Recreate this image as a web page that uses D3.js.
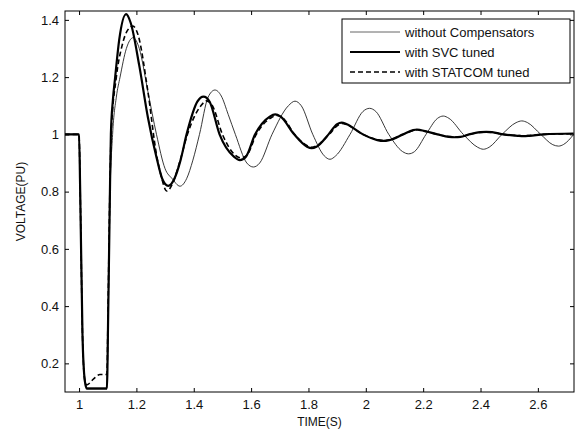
<!DOCTYPE html>
<html><head><meta charset="utf-8">
<script src="https://cdn.jsdelivr.net/npm/d3@7"></script>
<style>
body{margin:0;background:#fff;}
text{font-family:"Liberation Sans",Arial,sans-serif;}
</style></head>
<body><svg id="c" width="575" height="432"></svg>
<script>
// ---- data ----
const xTicks = [1, 1.2, 1.4, 1.6, 1.8, 2, 2.2, 2.4, 2.6];
const yTicks = [0.2, 0.4, 0.6, 0.8, 1, 1.2, 1.4];
const seriesNames = ["without Compensators", "with SVC tuned", "with STATCOM tuned"];

const withoutT = [0.95,1.0,1.004,1.012,1.02,1.028,1.097,1.102,1.107,1.117,1.13,1.143,1.165,1.189,1.21,1.24,1.27,1.30,1.325,1.352,1.375,1.397,1.42,1.45,1.474,1.496,1.52,1.545,1.585,1.608,1.63,1.673,1.73,1.753,1.775,1.815,1.855,1.875,1.895,1.945,1.99,2.013,2.035,2.08,2.128,2.149,2.17,2.21,2.25,2.27,2.29,2.34,2.39,2.41,2.43,2.475,2.524,2.544,2.564,2.61,2.652,2.672,2.69,2.725];
const withoutV = [1.0,1.0,0.8,0.3,0.15,0.114,0.114,0.4,0.75,1.0,1.13,1.2,1.3,1.338,1.3,1.15,1.0,0.88,0.845,0.819,0.845,0.91,1.0,1.13,1.155,1.134,1.07,1.0,0.9,0.886,0.9,1.0,1.1,1.116,1.1,1.0,0.925,0.913,0.925,1.0,1.08,1.091,1.08,1.0,0.94,0.932,0.94,1.0,1.056,1.064,1.056,1.0,0.955,0.948,0.955,1.0,1.041,1.047,1.041,1.0,0.964,0.959,0.965,1.0];

const svcT = [0.95,1.0,1.004,1.012,1.02,1.027,1.097,1.102,1.107,1.111,1.118,1.126,1.14,1.164,1.18,1.21,1.24,1.27,1.29,1.311,1.332,1.354,1.375,1.413,1.434,1.455,1.49,1.54,1.561,1.582,1.614,1.665,1.684,1.703,1.75,1.795,1.811,1.828,1.87,1.9,1.916,1.932,1.99,2.04,2.061,2.082,2.13,2.165,2.178,2.191,2.25,2.29,2.311,2.33,2.36,2.40,2.42,2.44,2.48,2.53,2.55,2.57,2.62,2.725];
const svcV = [1.0,1.0,0.8,0.3,0.14,0.112,0.112,0.4,0.75,1.0,1.12,1.2,1.33,1.42,1.39,1.24,1.06,0.92,0.845,0.82,0.844,0.91,1.0,1.115,1.132,1.115,1.0,0.922,0.91,0.922,1.0,1.062,1.07,1.062,1.0,0.957,0.952,0.957,1.0,1.036,1.041,1.036,1.0,0.98,0.977,0.98,1.0,1.015,1.017,1.015,1.0,0.991,0.99,0.991,1.0,1.008,1.009,1.008,1.0,0.995,0.994,0.995,1.0,1.003];

const statT = [0.95,1.0,1.004,1.012,1.02,1.027,1.05,1.073,1.097,1.102,1.107,1.112,1.13,1.15,1.17,1.188,1.205,1.24,1.27,1.285,1.306,1.327,1.35,1.378,1.425,1.445,1.465,1.50,1.544,1.565,1.586,1.618,1.67,1.69,1.71,1.752,1.796,1.812,1.828,1.872,1.904,1.92,1.936,1.99,2.042,2.063,2.084,2.13,2.167,2.18,2.193,2.25,2.293,2.313,2.333,2.36,2.40,2.42,2.44,2.48,2.53,2.55,2.57,2.62,2.725];
const statV = [1.0,1.0,0.8,0.3,0.14,0.125,0.145,0.161,0.161,0.45,0.78,1.0,1.2,1.31,1.365,1.378,1.35,1.15,0.93,0.86,0.802,0.83,0.9,1.0,1.1,1.117,1.1,1.0,0.928,0.918,0.928,1.0,1.058,1.066,1.058,1.0,0.96,0.955,0.96,1.0,1.033,1.038,1.033,1.0,0.981,0.978,0.981,1.0,1.014,1.016,1.014,1.0,0.992,0.991,0.992,1.0,1.007,1.008,1.007,1.0,0.996,0.995,0.996,1.0,1.002];

// ---- layout ----
const L = 65, R = 574, T = 11, B = 392;
const svg = d3.select("#c");
const x = d3.scaleLinear().domain([0.951, 2.726]).range([L, R]);
const y = d3.scaleLinear().domain([0.1, 1.431]).range([B, T]);

// axes
const fmt = d => String(d);
const gx = svg.append("g").attr("transform", `translate(0,${B})`)
  .call(d3.axisBottom(x).tickValues(xTicks).tickFormat(fmt).tickSizeInner(-4).tickSizeOuter(0).tickPadding(8));
const gxt = svg.append("g").attr("transform", `translate(0,${T})`)
  .call(d3.axisTop(x).tickValues(xTicks).tickFormat("").tickSizeInner(-4).tickSizeOuter(0));
const gy = svg.append("g").attr("transform", `translate(${L},0)`)
  .call(d3.axisLeft(y).tickValues(yTicks).tickFormat(fmt).tickSizeInner(-4).tickSizeOuter(0).tickPadding(6));
const gyr = svg.append("g").attr("transform", `translate(${R},0)`)
  .call(d3.axisRight(y).tickValues(yTicks).tickFormat("").tickSizeInner(-4).tickSizeOuter(0));
[gx, gxt, gy, gyr].forEach(g => {
  g.select(".domain").remove();
  g.selectAll(".tick line").attr("stroke", "#000").attr("stroke-width", 1);
  g.selectAll("text").attr("fill", "#111").style("font-size", "13px").style("font-family", "Liberation Sans, Arial, sans-serif");
});

// clip
svg.append("clipPath").attr("id", "clip").append("rect")
  .attr("x", L).attr("y", T).attr("width", R - L).attr("height", B - T);

const line = d3.line().x(d => x(d[0])).y(d => y(d[1])).curve(d3.curveMonotoneX);
const zip = (a, b) => a.map((t, i) => [t, b[i]]);
const plot = svg.append("g").attr("clip-path", "url(#clip)");
plot.append("path").datum(zip(withoutT, withoutV)).attr("d", line)
  .attr("fill", "none").attr("stroke", "#222").attr("stroke-width", 0.9);
plot.append("path").datum(zip(statT, statV)).attr("d", line)
  .attr("fill", "none").attr("stroke", "#000").attr("stroke-width", 1.6).attr("stroke-dasharray", "5,3");
plot.append("path").datum(zip(svcT, svcV)).attr("d", line)
  .attr("fill", "none").attr("stroke", "#000").attr("stroke-width", 2.2);

// frame
svg.append("rect").attr("x", L).attr("y", T).attr("width", R - L).attr("height", B - T)
  .attr("fill", "none").attr("stroke", "#000").attr("stroke-width", 1);

// axis labels
svg.append("text").attr("x", (L + R) / 2).attr("y", 426).attr("text-anchor", "middle")
  .style("font-size", "12px").attr("fill", "#111").text("TIME(S)");
svg.append("text").attr("transform", `translate(25,${(T + B) / 2}) rotate(-90)`).attr("text-anchor", "middle")
  .style("font-size", "12px").attr("fill", "#111").text("VOLTAGE(PU)");

// legend
const lg = svg.append("g");
lg.append("rect").attr("x", 342).attr("y", 19).attr("width", 228).attr("height", 64)
  .attr("fill", "#fff").attr("stroke", "#000").attr("stroke-width", 1);
const styles = [
  {w: 0.9, c: "#555", d: null},
  {w: 2.2, c: "#000", d: null},
  {w: 1.6, c: "#000", d: "5,3"}
];
seriesNames.forEach((n, i) => {
  const yy = 32 + i * 20;
  const l = lg.append("line").attr("x1", 350).attr("x2", 400).attr("y1", yy).attr("y2", yy)
    .attr("stroke", styles[i].c).attr("stroke-width", styles[i].w);
  if (styles[i].d) l.attr("stroke-dasharray", styles[i].d);
  lg.append("text").attr("x", 405).attr("y", yy + 5).style("font-size", "13px").attr("fill", "#111").text(n);
});
</script></body></html>
